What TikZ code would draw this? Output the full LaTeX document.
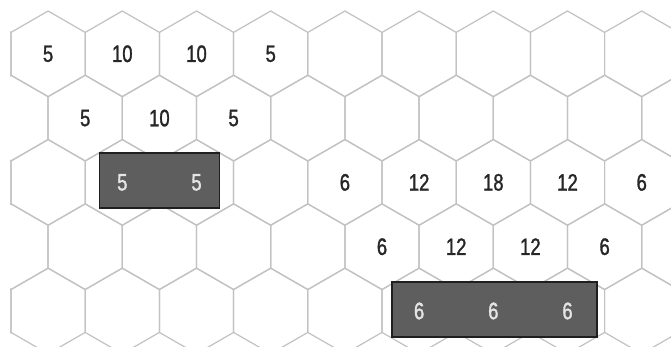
\documentclass[tikz,border=0pt]{standalone}
\usepackage{fontspec}
\setmainfont[FakeStretch=0.78,FakeBold=1.3]{Liberation Sans}
\usetikzlibrary{calc}
\tikzset{
  cell/.style={draw=black!24, line width=0.7pt},
  val/.style={font=\fontsize{13.5}{15}\selectfont, text=black!85, inner sep=0pt},
  hotval/.style={val, text=black!10},
  darkbox/.style={fill=black!63, draw=black!88, line width=1pt, minimum height=1.11cm, inner sep=0pt}
}
\begin{document}
\begin{tikzpicture}[x=0.02cm,y=-0.02cm]
\useasboundingbox (0,0) rectangle (671,347);
% hex grid, clipped at the edges
\begin{scope}
\clip (10,0) rectangle (671,347);
\foreach \r in {0,...,4} {
  \foreach \c in {-1,...,9} {
    \pgfmathsetmacro\hx{48.1+74.2*\c-37.1*mod(\r,2)}
    \pgfmathsetmacro\hy{53.8+64.3*\r}
    \coordinate (h-\r-\c) at (\hx,\hy);
    \draw[cell] (h-\r-\c) ++(0,-42.8) -- ++(37.1,21.4) -- ++(0,42.8) -- ++(-37.1,21.4)
      -- ++(-37.1,-21.4) -- ++(0,-42.8) -- cycle;
  }
}
\end{scope}
% dark boxes
\node[darkbox, minimum width=2.4cm] (box1) at ($(h-2-1)!0.5!(h-2-2)+(0,-2)$) {};
\node[darkbox, minimum width=4.1cm] (box2) at ($(h-4-6)+(1.5,-1.5)$) {};
% values
\foreach \r/\c/\v in {0/0/5, 0/1/10, 0/2/10, 0/3/5,
                      1/1/5, 1/2/10, 1/3/5,
                      2/4/6, 2/5/12, 2/6/18, 2/7/12, 2/8/6,
                      3/5/6, 3/6/12, 3/7/12, 3/8/6}
  \node[val] (n-\r-\c) at (h-\r-\c) {\v};
\foreach \r/\c/\v in {2/1/5, 2/2/5, 4/5/6, 4/6/6, 4/7/6}
  \node[hotval] (n-\r-\c) at (h-\r-\c) {\v};
\end{tikzpicture}
\end{document}
